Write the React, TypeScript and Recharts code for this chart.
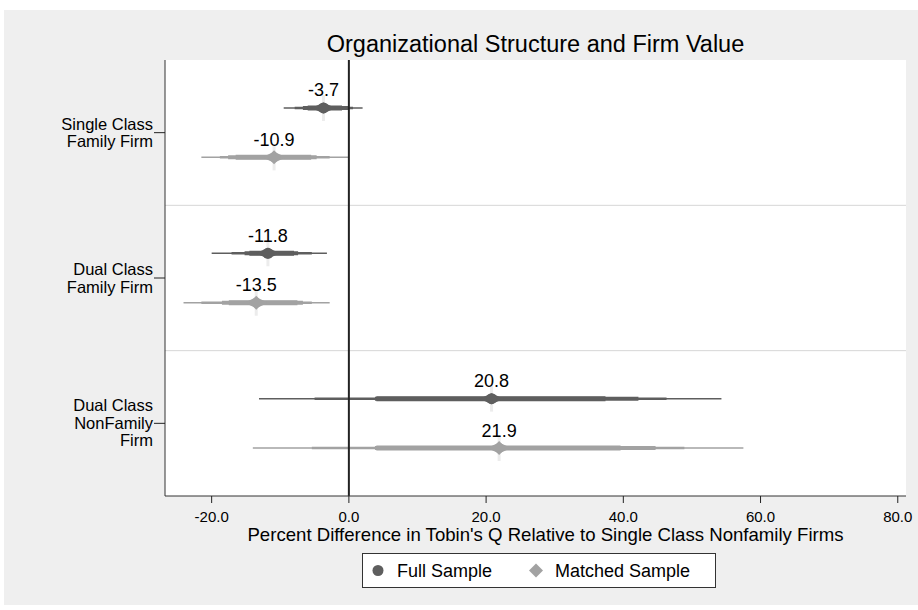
import React from 'react'
import {
  ScatterChart,
  Scatter,
  XAxis,
  YAxis,
  ErrorBar,
  ReferenceLine,
  LabelList,
  CartesianGrid,
} from 'recharts'

// Categories (one line of label per entry)
const GROUPS = [
  ['Single Class', 'Family Firm'],
  ['Dual Class', 'Family Firm'],
  ['Dual Class', 'NonFamily', 'Firm'],
]
const GROUP_POS = [0.5, 1.5, 2.5]
const X_TICKS = [-20, 0, 20, 40, 60, 80]

// Full sample: estimate and nested intervals (outer -> inner)
const FULL_EST = [-3.7, -11.8, 20.8]
const FULL_LO1 = [-9.5, -20.0, -13.1]
const FULL_HI1 = [2.0, -3.2, 54.3]
const FULL_LO2 = [-7.9, -17.1, -5.0]
const FULL_HI2 = [0.6, -5.4, 46.3]
const FULL_LO3 = [-6.7, -15.2, 3.8]
const FULL_HI3 = [-0.1, -7.4, 42.2]
const FULL_LO4 = [-6.0, -14.5, 4.0]
const FULL_HI4 = [-1.0, -8.0, 37.4]

// Matched sample
const MATCH_EST = [-10.9, -13.5, 21.9]
const MATCH_LO1 = [-21.5, -24.1, -14.0]
const MATCH_HI1 = [0.0, -2.8, 57.5]
const MATCH_LO2 = [-18.8, -21.5, -5.4]
const MATCH_HI2 = [-2.8, -5.4, 48.9]
const MATCH_LO3 = [-17.6, -18.5, 3.8]
const MATCH_HI3 = [-4.7, -6.7, 44.7]
const MATCH_LO4 = [-16.5, -17.5, 4.0]
const MATCH_HI4 = [-5.5, -7.5, 39.6]

const FULL_COLOR = '#5e5e5e'
const MATCH_COLOR = '#a2a2a2'
const FONT = '"Liberation Sans", Arial, sans-serif'

const build = (est: number[], lo: number[][], hi: number[][], shift: number) =>
  est.map((v, i) => ({
    x: v,
    y: GROUP_POS[i] + shift,
    e1: [v - lo[0][i], hi[0][i] - v],
    e2: [v - lo[1][i], hi[1][i] - v],
    e3: [v - lo[2][i], hi[2][i] - v],
    e4: [v - lo[3][i], hi[3][i] - v],
  }))

const fullData = build(
  FULL_EST,
  [FULL_LO1, FULL_LO2, FULL_LO3, FULL_LO4],
  [FULL_HI1, FULL_HI2, FULL_HI3, FULL_HI4],
  -0.17
)
const matchData = build(
  MATCH_EST,
  [MATCH_LO1, MATCH_LO2, MATCH_LO3, MATCH_LO4],
  [MATCH_HI1, MATCH_HI2, MATCH_HI3, MATCH_HI4],
  0.17
)

function Marker({ cx, cy, fill, kind }: any) {
  if (cx == null || cy == null) return null
  return (
    <g>
      <line x1={cx} x2={cx} y1={cy - 13} y2={cy + 13} stroke="#ececec" strokeWidth={3} />
      <polygon
        points={`${cx - 12},${cy} ${cx},${cy - 5.5} ${cx + 12},${cy} ${cx},${cy + 5.5}`}
        fill={fill}
      />
      {kind === 'circle' ? (
        <circle cx={cx} cy={cy} r={5.5} fill={fill} />
      ) : (
        <polygon
          points={`${cx - 7},${cy} ${cx},${cy - 7} ${cx + 7},${cy} ${cx},${cy + 7}`}
          fill={fill}
        />
      )}
    </g>
  )
}

function CategoryTick({ x, y, payload }: any) {
  const idx = GROUP_POS.indexOf(payload.value)
  const lines = GROUPS[idx] || []
  const start = lines.length === 3 ? -12 : -3
  return (
    <g>
      {lines.map((l, i) => (
        <text
          key={i}
          x={x}
          y={y + start + i * 17.5}
          textAnchor="end"
          fontSize={16.5}
          fontFamily={FONT}
          fill="#000"
        >
          {l}
        </text>
      ))}
    </g>
  )
}

const bars = (color: string) =>
  [
    ['e1', 1.5],
    ['e2', 2.5],
    ['e3', 4],
    ['e4', 5],
  ].map(([key, w]) => (
    <ErrorBar
      key={key as string}
      dataKey={key as string}
      direction="x"
      width={0}
      stroke={color}
      strokeWidth={w as number}
      isAnimationActive={false}
    />
  ))

export default function App() {
  return (
    <div style={{ position: 'relative', width: 918, height: 610, background: '#fff', fontFamily: FONT }}>
      <style>{'body{margin:0}'}</style>
      <div
        style={{ position: 'absolute', left: 4, top: 10, width: 914, height: 595, background: '#efefef' }}
      />
      <div
        style={{
          position: 'absolute',
          left: 165,
          width: 741,
          top: 33,
          textAlign: 'center',
          fontSize: 23.5,
          lineHeight: '23px',
          color: '#000',
        }}
      >
        Organizational Structure and Firm Value
      </div>
      <div style={{ position: 'absolute', left: 0, top: 0 }}>
        <ScatterChart width={918} height={610} margin={{ top: 60, right: 12, bottom: 64, left: 0 }}>
          <CartesianGrid horizontal={false} vertical={false} fill="#ffffff" stroke="none" />
          <XAxis
            type="number"
            dataKey="x"
            domain={[-26.8, 81.2]}
            ticks={X_TICKS}
            allowDataOverflow
            tickFormatter={(v: number) => v.toFixed(1)}
            tick={{ fontSize: 15, fill: '#000', fontFamily: FONT }}
            tickSize={7}
            tickMargin={8}
            tickLine={{ stroke: '#222' }}
            axisLine={{ stroke: '#333' }}
            height={50}
            label={{
              value: "Percent Difference in Tobin's Q Relative to Single Class Nonfamily Firms",
              position: 'insideBottom',
              offset: 5,
              dx: 10,
              fontSize: 18.6,
              fill: '#000',
              fontFamily: FONT,
            }}
          />
          <YAxis
            type="number"
            dataKey="y"
            domain={[0, 3]}
            reversed
            ticks={GROUP_POS}
            allowDataOverflow
            width={165}
            tickSize={11}
            tickMargin={1}
            tickLine={{ stroke: '#222' }}
            axisLine={{ stroke: '#333' }}
            tick={<CategoryTick />}
          />
          <ReferenceLine y={1} stroke="#d6d6d6" strokeWidth={1} />
          <ReferenceLine y={2} stroke="#d6d6d6" strokeWidth={1} />
          <Scatter
            name="Full Sample"
            data={fullData}
            fill={FULL_COLOR}
            isAnimationActive={false}
            shape={(p: any) => <Marker {...p} fill={FULL_COLOR} kind="circle" />}
          >
            {bars(FULL_COLOR)}
            <LabelList
              dataKey="x"
              position="top"
              offset={7}
              formatter={(v: any) => Number(v).toFixed(1)}
              style={{ fontSize: 18, fill: '#000', fontFamily: FONT }}
            />
          </Scatter>
          <Scatter
            name="Matched Sample"
            data={matchData}
            fill={MATCH_COLOR}
            isAnimationActive={false}
            shape={(p: any) => <Marker {...p} fill={MATCH_COLOR} kind="diamond" />}
          >
            {bars(MATCH_COLOR)}
            <LabelList
              dataKey="x"
              position="top"
              offset={7}
              formatter={(v: any) => Number(v).toFixed(1)}
              style={{ fontSize: 18, fill: '#000', fontFamily: FONT }}
            />
          </Scatter>
          <ReferenceLine x={0} stroke="#222" strokeWidth={2} />
        </ScatterChart>
      </div>
      <div
        style={{
          position: 'absolute',
          left: 362,
          top: 553,
          width: 354,
          height: 35,
          boxSizing: 'border-box',
          border: '1px solid #333',
          background: '#fff',
        }}
      >
        <svg width={352} height={33} style={{ display: 'block' }}>
          <circle cx={15} cy={16.5} r={5.5} fill={FULL_COLOR} />
          <text x={34} y={23} fontSize={18} fontFamily={FONT} fill="#000">
            Full Sample
          </text>
          <polygon points="166,16.5 173,9.5 180,16.5 173,23.5" fill={MATCH_COLOR} />
          <text x={192} y={23} fontSize={18} fontFamily={FONT} fill="#000">
            Matched Sample
          </text>
        </svg>
      </div>
    </div>
  )
}
